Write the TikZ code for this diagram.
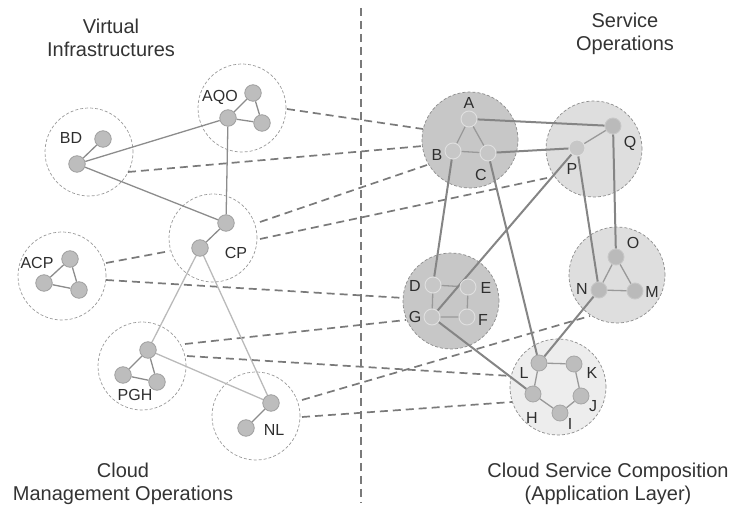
\documentclass[tikz,border=0pt]{standalone}
\usepackage{fontspec}
\setmainfont{Liberation Sans}
\pgfdeclarelayer{bg}
\pgfdeclarelayer{mid}
\pgfsetlayers{bg,mid,main}
\begin{document}
\begin{tikzpicture}[x=1pt,y=-1pt,
  vnode/.style={circle,draw=black!38,line width=0.8pt,fill=black!26,minimum size=16.5pt,inner sep=0pt},
  snode/.style={circle,draw=black!12,line width=0.9pt,fill=black!22,minimum size=16pt,inner sep=0pt},
  lnode/.style={circle,draw=black!35,line width=0.8pt,fill=black!26,minimum size=16pt,inner sep=0pt},
  vgroup/.style={circle,draw=black!40,dash pattern=on 3pt off 2pt,line width=0.7pt,minimum size=88pt,inner sep=0pt},
  sgroup/.style={circle,draw=black!45,dash pattern=on 3pt off 2pt,line width=0.7pt,minimum size=96pt,inner sep=0pt},
  lab/.style={font=\fontsize{16}{16}\selectfont,text=black!82,inner sep=0pt},
  ttl/.style={font=\fontsize{20}{23}\selectfont,text=black!80,align=center,inner sep=0pt},
  vedge/.style={draw=black!45,line width=1.3pt},
  vedge2/.style={draw=black!27,line width=1.3pt},
  sedge/.style={draw=black!48,line width=2pt},
  iedge/.style={draw=black!40,line width=1.3pt},
  map/.style={draw=black!52,line width=1.7pt,dash pattern=on 8pt off 5pt},
]
\useasboundingbox (0,0) rectangle (737,518);

% titles
\node[ttl] (t1) at (111,38) {Virtual\\Infrastructures};
\node[ttl] (t2) at (625,34) {Service\\Operations};
\node[ttl] (t3) at (123,484) {Cloud\\Management Operations};
\node[ttl] (t4) at (608,484) {Cloud Service Composition\\(Application Layer)};

% left nodes
\node[vnode] (aqo1) at (228,118) {};
\node[vnode] (aqo2) at (253,93) {};
\node[vnode] (aqo3) at (262,123) {};
\node[vnode] (bd1) at (77,164) {};
\node[vnode] (bd2) at (103,139) {};
\node[vnode] (cp1) at (226,223) {};
\node[vnode] (cp2) at (200,248) {};
\node[vnode] (acp1) at (70,259) {};
\node[vnode] (acp2) at (44,283) {};
\node[vnode] (acp3) at (79,290) {};
\node[vnode] (pgh1) at (148,350) {};
\node[vnode] (pgh2) at (123,375) {};
\node[vnode] (pgh3) at (157,382) {};
\node[vnode] (nl1) at (271,403) {};
\node[vnode] (nl2) at (246,428) {};

% left labels
\node[lab] (lAQO) at (220,97) {AQO};
\node[lab] (lBD) at (71,138) {BD};
\node[lab] (lCP) at (236,253) {CP};
\node[lab] (lACP) at (37,263) {ACP};
\node[lab] (lPGH) at (135,395) {PGH};
\node[lab] (lNL) at (274,430) {NL};

% right nodes
\node[snode] (A) at (469,119) {};
\node[snode] (B) at (453,151) {};
\node[snode] (C) at (488,153) {};
\node[snode] (P) at (577,148) {};
\node[snode,fill=black!27,draw=black!22] (Q) at (613,126) {};
\node[snode,fill=black!27,draw=black!22] (O) at (616,257) {};
\node[snode,fill=black!27,draw=black!22] (N) at (599,290) {};
\node[snode,fill=black!27,draw=black!22] (M) at (635,291) {};
\node[snode] (D) at (433,285) {};
\node[snode] (E) at (468,287) {};
\node[snode] (G) at (432,317) {};
\node[snode] (F) at (467,317) {};
\node[lnode] (L) at (539,363) {};
\node[lnode] (K) at (574,364) {};
\node[lnode] (J) at (581,396) {};
\node[lnode] (I) at (560,413) {};
\node[lnode] (H) at (533,394) {};

% right labels
\node[lab] (lA) at (469,103) {A};
\node[lab] (lB) at (437,155) {B};
\node[lab] (lC) at (481,175) {C};
\node[lab] (lP) at (572,169) {P};
\node[lab] (lQ) at (630,143) {Q};
\node[lab] (lO) at (633,243) {O};
\node[lab] (lN) at (582,289) {N};
\node[lab] (lM) at (652,292) {M};
\node[lab] (lD) at (415,286) {D};
\node[lab] (lE) at (486,288) {E};
\node[lab] (lG) at (415,317) {G};
\node[lab] (lF) at (483,320) {F};
\node[lab] (lL) at (524,373) {L};
\node[lab] (lK) at (592,373) {K};
\node[lab] (lJ) at (593,406) {J};
\node[lab] (lI) at (570,424) {I};
\node[lab] (lH) at (532,418) {H};

\begin{pgfonlayer}{bg}
% divider
\coordinate (dv1) at (361,8);
\coordinate (dv2) at (361,503);
\draw[draw=black!52,line width=2pt,dash pattern=on 8pt off 5pt] (dv1) -- (dv2);

% left groups
\node[vgroup] (gAQO) at (242,108) {};
\node[vgroup] (gBD) at (89,152) {};
\node[vgroup] (gCP) at (213,238) {};
\node[vgroup] (gACP) at (62,276) {};
\node[vgroup] (gPGH) at (142,366) {};
\node[vgroup] (gNL) at (256,416) {};

% right groups
\node[sgroup,fill=black!22] (gABC) at (470,140) {};
\node[sgroup,fill=black!13] (gPQ) at (594,149) {};
\node[sgroup,fill=black!13] (gOMN) at (617,275) {};
\node[sgroup,fill=black!22] (gDEFG) at (451,301) {};
\node[sgroup,fill=black!7] (gHL) at (558,387) {};

% dashed mappings
\coordinate (m1a) at (287,109); \coordinate (m1b) at (423,129);
\coordinate (m2a) at (128,172); \coordinate (m2b) at (423,146);
\coordinate (m3a) at (260,222); \coordinate (m3b) at (427,165);
\coordinate (m4a) at (260,239); \coordinate (m4b) at (547,178);
\coordinate (m5a) at (106,263); \coordinate (m5b) at (170,251);
\coordinate (m6a) at (106,280); \coordinate (m6b) at (404,298);
\coordinate (m7a) at (185,344); \coordinate (m7b) at (406,320);
\coordinate (m8a) at (187,356); \coordinate (m8b) at (511,376);
\coordinate (m9a) at (302,400); \coordinate (m9b) at (590,316);
\coordinate (m10a) at (302,417); \coordinate (m10b) at (512,402);
\draw[map] (m1a) -- (m1b);
\draw[map] (m2a) -- (m2b);
\draw[map] (m3a) -- (m3b);
\draw[map] (m4a) -- (m4b);
\draw[map] (m5a) -- (m5b);
\draw[map] (m6a) -- (m6b);
\draw[map] (m7a) -- (m7b);
\draw[map] (m8a) -- (m8b);
\draw[map] (m9a) -- (m9b);
\draw[map] (m10a) -- (m10b);
\end{pgfonlayer}

\begin{pgfonlayer}{mid}
% left edges
\draw[vedge] (aqo1) -- (aqo2) (aqo2) -- (aqo3) (aqo1) -- (aqo3);
\draw[vedge] (bd1) -- (bd2);
\draw[vedge] (cp1) -- (cp2);
\draw[vedge] (acp1) -- (acp2) (acp2) -- (acp3) (acp1) -- (acp3);
\draw[vedge] (pgh1) -- (pgh2) (pgh2) -- (pgh3) (pgh1) -- (pgh3);
\draw[vedge] (nl1) -- (nl2);
\draw[vedge] (bd1) -- (aqo1);
\draw[vedge] (bd1) -- (cp1);
\draw[vedge] (aqo1) -- (cp1);
\draw[vedge2] (cp2) -- (pgh1);
\draw[vedge2] (cp2) -- (nl1);
\draw[vedge2] (pgh1) -- (nl1);

% right inner edges
\draw[iedge] (A) -- (B) (A) -- (C) (B) -- (C);
\draw[iedge] (P) -- (Q);
\draw[iedge] (O) -- (N) (O) -- (M) (N) -- (M);
\draw[iedge] (D) -- (E) (D) -- (G) (G) -- (F) (E) -- (F);
\draw[iedge] (L) -- (K) (K) -- (J) (J) -- (I) (I) -- (H) (H) -- (L);

% right inter edges
\draw[sedge] (A) -- (Q);
\draw[sedge] (C) -- (P);
\draw[sedge] (B) -- (D);
\draw[sedge] (C) -- (L);
\draw[sedge] (P) -- (G);
\draw[sedge] (P) -- (N);
\draw[sedge] (Q) -- (O);
\draw[sedge] (N) -- (L);
\draw[sedge] (G) -- (H);
\end{pgfonlayer}
\end{tikzpicture}
\end{document}
